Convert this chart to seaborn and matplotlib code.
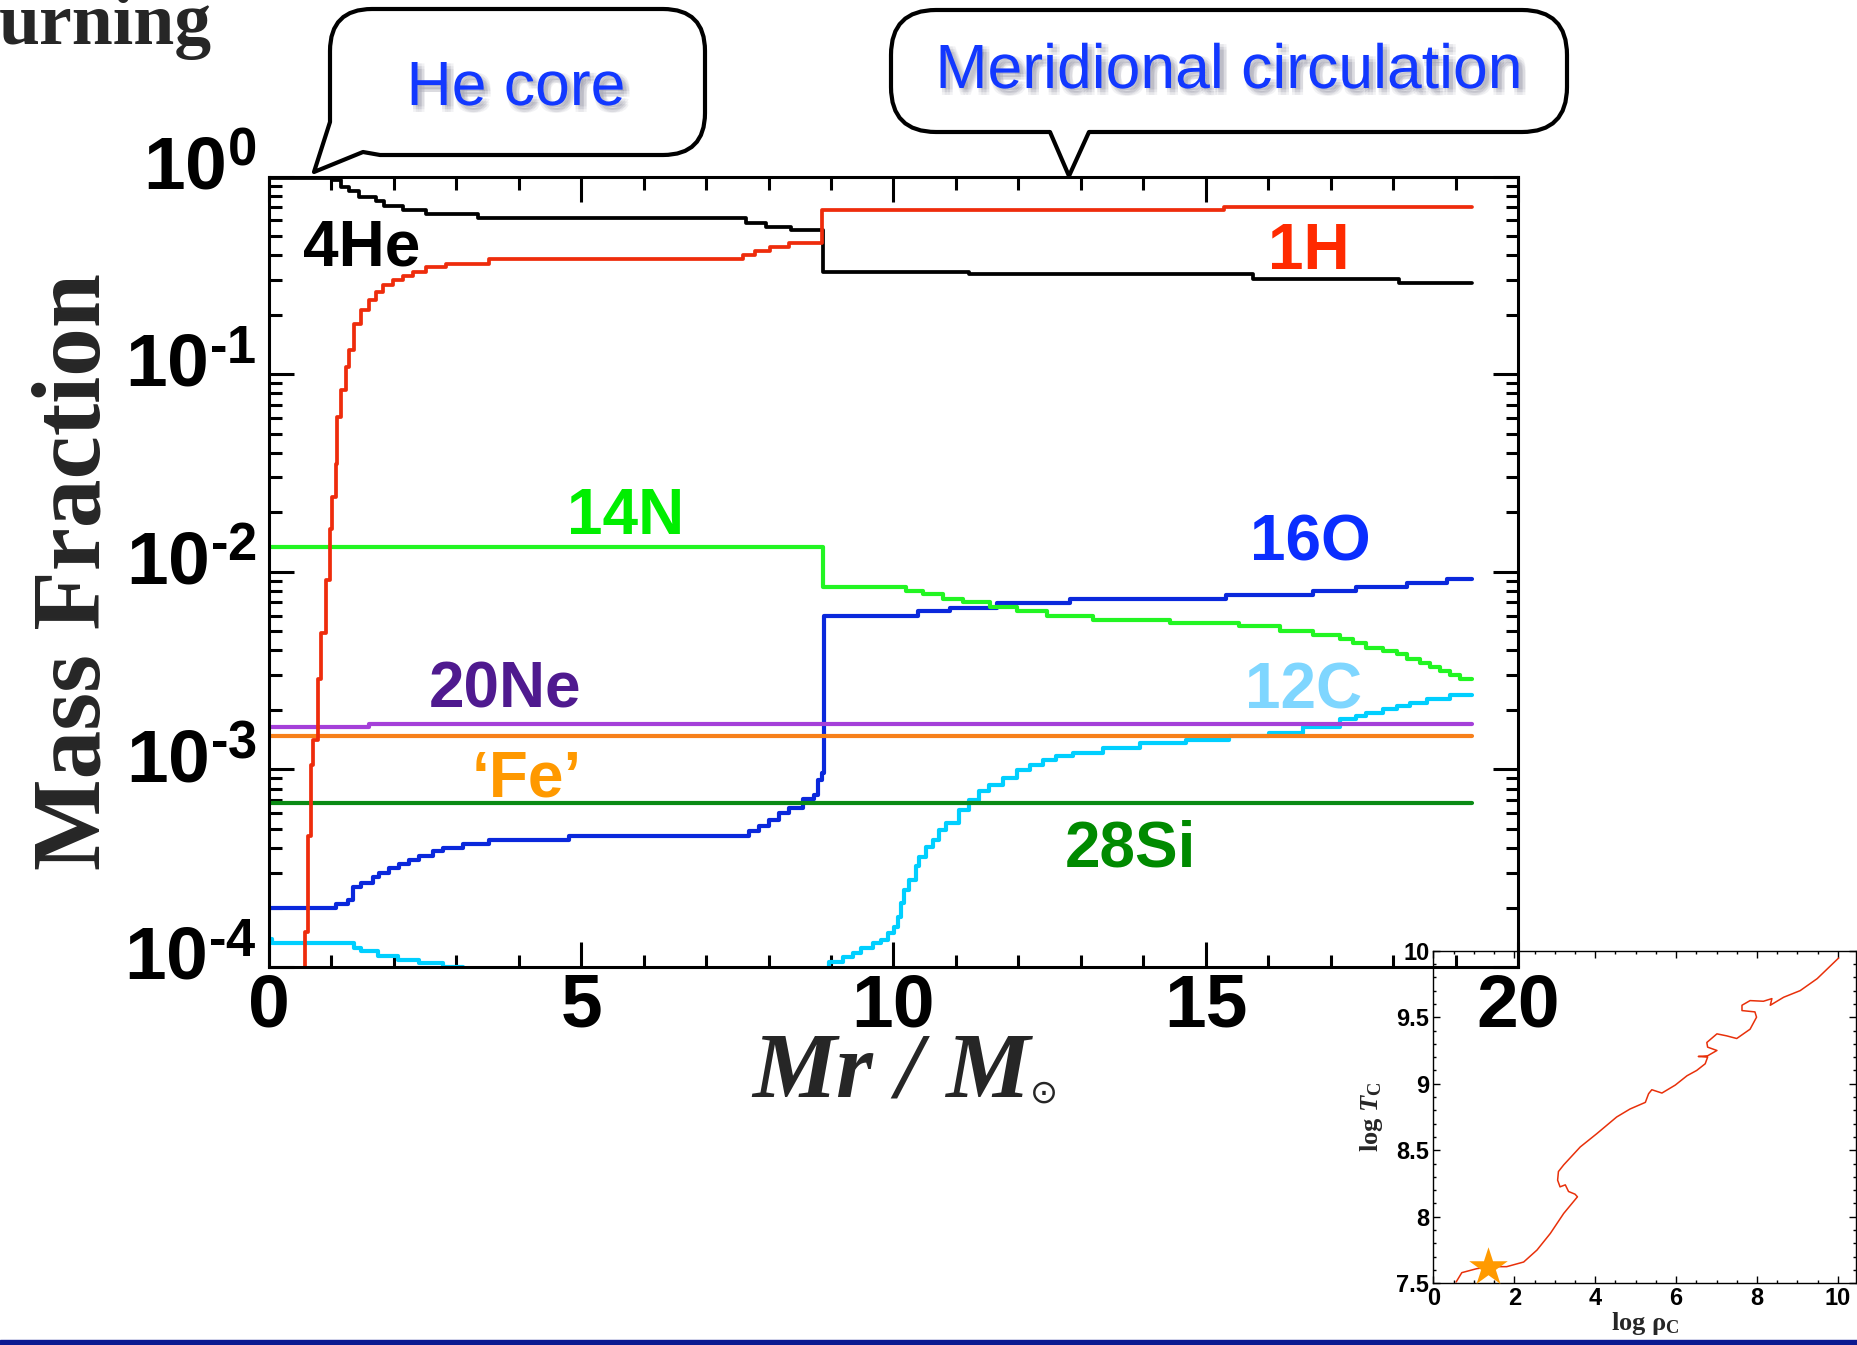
import numpy as np
import pandas as pd
import matplotlib
matplotlib.use("Agg")
import matplotlib.pyplot as plt
import matplotlib.ticker as mticker
import matplotlib.patheffects as pe
import matplotlib.transforms as mtrans
from matplotlib.path import Path
from matplotlib.patches import PathPatch, Rectangle
import seaborn as sns

# ---------------- abundance profiles (zone start Mr, mass fraction) ----------------
h1_mr = [0.55, 0.57, 0.62, 0.67, 0.71, 0.78, 0.84, 0.92, 0.98, 1.01, 1.07, 1.095,
         1.15, 1.23, 1.28, 1.36, 1.47, 1.60, 1.71, 1.82, 1.98, 2.14, 2.30, 2.51,
         2.83, 3.53, 7.59, 7.79, 8.03, 8.33, 8.85, 15.3, 19.26]
h1_x = [5e-5, 1.5e-4, 4.6e-4, 1.05e-3, 1.4e-3, 2.85e-3, 4.9e-3, 9.1e-3, 0.0164, 0.024,
        0.035, 0.061, 0.083, 0.109, 0.132, 0.18, 0.211, 0.237, 0.261, 0.282, 0.299,
        0.315, 0.330, 0.347, 0.361, 0.381, 0.40, 0.42, 0.44, 0.46, 0.678, 0.705, 0.705]

he4_mr = [0.0, 1.01, 1.15, 1.28, 1.44, 1.71, 1.84, 2.14, 2.51, 3.34, 7.64, 7.96,
          8.36, 8.87, 11.21, 15.76, 18.1, 19.26]
he4_x = [0.98, 0.96, 0.89, 0.84, 0.79, 0.755, 0.71, 0.678, 0.644, 0.615, 0.585,
         0.558, 0.537, 0.33, 0.32, 0.302, 0.29, 0.29]

n14_mr = [0.0, 8.87, 10.20, 10.47, 10.79, 11.11, 11.54, 11.97, 12.45, 13.19, 14.42,
          15.54, 16.19, 16.72, 17.15, 17.36, 17.57, 17.84, 18.06, 18.22, 18.43,
          18.59, 18.75, 18.91, 19.07, 19.26]
n14_x = [0.01327, 0.0084, 0.0080, 0.0077, 0.0073, 0.0070, 0.0066, 0.0063, 0.0060,
         0.0057, 0.0055, 0.0053, 0.0050, 0.00479, 0.00455, 0.00434, 0.00413,
         0.00397, 0.00382, 0.00363, 0.00347, 0.0033, 0.00315, 0.00299, 0.00285, 0.00285]

o16_mr = [0.0, 1.07, 1.26, 1.34, 1.47, 1.66, 1.76, 1.92, 2.08, 2.24, 2.40, 2.62, 2.78,
          3.10, 3.53, 4.81, 7.69, 7.85, 8.01, 8.17, 8.33, 8.55, 8.73, 8.79, 8.85,
          8.89, 10.39, 10.90, 11.65, 12.82, 15.33, 16.72, 17.41, 18.22, 18.86, 19.26]
o16_x = [2.0e-4, 2.08e-4, 2.19e-4, 2.54e-4, 2.65e-4, 2.87e-4, 2.99e-4, 3.16e-4,
         3.33e-4, 3.48e-4, 3.66e-4, 3.85e-4, 4.0e-4, 4.19e-4, 4.41e-4, 4.61e-4,
         4.85e-4, 5.14e-4, 5.56e-4, 6.01e-4, 6.37e-4, 7.08e-4, 7.45e-4, 8.87e-4,
         9.6e-4, 0.0060, 0.00633, 0.00658, 0.00692, 0.00726, 0.0076, 0.0080,
         0.00838, 0.00881, 0.00923, 0.00923]

c12_mr = [0.0, 0.05, 1.36, 1.47, 1.74, 2.06, 2.40, 2.78, 3.1, 5.0, 8.0, 8.89, 8.97,
          9.19, 9.35, 9.48, 9.67, 9.80, 9.91, 10.01, 10.07, 10.12, 10.17, 10.25,
          10.36, 10.41, 10.52, 10.63, 10.73, 10.84, 11.05, 11.21, 11.37, 11.53,
          11.75, 11.97, 12.18, 12.39, 12.61, 12.87, 13.35, 13.94, 14.69, 15.38,
          16.02, 16.56, 17.15, 17.41, 17.57, 17.84, 18.06, 18.27, 18.54, 18.91, 19.26]
c12_x = [1.38e-4, 1.32e-4, 1.25e-4, 1.20e-4, 1.14e-4, 1.08e-4, 1.045e-4, 1.0e-4,
         9.0e-5, 8.0e-5, 8.5e-5, 9.8e-5, 1.064e-4, 1.127e-4, 1.183e-4, 1.245e-4,
         1.318e-4, 1.371e-4, 1.483e-4, 1.6e-4, 1.8e-4, 2.1e-4, 2.45e-4, 2.76e-4,
         3.23e-4, 3.62e-4, 4.07e-4, 4.41e-4, 4.95e-4, 5.35e-4, 6.25e-4, 7.03e-4,
         7.74e-4, 8.37e-4, 9.06e-4, 9.98e-4, 1.057e-3, 1.12e-3, 1.164e-3, 1.21e-3,
         1.285e-3, 1.36e-3, 1.416e-3, 1.47e-3, 1.53e-3, 1.64e-3, 1.79e-3, 1.86e-3,
         1.93e-3, 2.01e-3, 2.09e-3, 2.17e-3, 2.28e-3, 2.39e-3, 2.39e-3]

ne20_mr = [0.0, 1.6, 19.26]
ne20_x = [1.63e-3, 1.70e-3, 1.70e-3]

fe_mr = [0.0, 19.26]
fe_x = [1.48e-3, 1.48e-3]

si28_mr = [0.0, 19.26]
si28_x = [6.73e-4, 6.73e-4]

# ---------------- central evolution track ----------------
log_rho_c = [0.56, 0.70, 1.07, 1.40, 1.81, 2.23, 2.56, 2.89, 3.22, 3.56, 3.50, 3.34,
             3.26, 3.13, 3.07, 3.09, 3.22, 3.63, 4.04, 4.53, 4.86, 5.24, 5.32, 5.40,
             5.65, 5.98, 6.27, 6.51, 6.72, 6.78, 6.55, 6.78, 7.01, 6.78, 6.76, 7.01,
             7.25, 7.50, 7.83, 7.99, 7.95, 7.63, 7.63, 7.83, 8.16, 8.37, 8.33, 8.66,
             9.07, 9.49, 10.02]
log_t_c = [7.51, 7.58, 7.61, 7.625, 7.625, 7.66, 7.75, 7.875, 8.025, 8.15, 8.17, 8.19,
           8.24, 8.225, 8.275, 8.34, 8.39, 8.525, 8.625, 8.75, 8.81, 8.86, 8.925,
           8.955, 8.93, 8.99, 9.06, 9.10, 9.15, 9.20, 9.205, 9.21, 9.25, 9.275, 9.31,
           9.375, 9.36, 9.34, 9.41, 9.50, 9.54, 9.55, 9.59, 9.625, 9.62, 9.64, 9.59,
           9.65, 9.70, 9.79, 9.945]
star_log_rho = [1.36]
star_log_t = [7.625]

# ---------------- ticks and labels ----------------
mass_ticks = [0, 5, 10, 15, 20]
mass_tick_labels = ["0", "5", "10", "15", "20"]
frac_ticks = [1e-4, 1e-3, 1e-2, 1e-1, 1.0]
frac_tick_labels = ["10$^{\u20104}$", "10$^{\u20103}$", "10$^{\u20102}$",
                    "10$^{\u20101}$", "10$^{0}$"]
rho_ticks = [0, 2, 4, 6, 8, 10]
rho_tick_labels = ["0", "2", "4", "6", "8", "10"]
t_ticks = [7.5, 8.0, 8.5, 9.0, 9.5, 10.0]
t_tick_labels = ["7.5", "8", "8.5", "9", "9.5", "10"]

species_names = ["4He", "1H", "14N", "16O", "20Ne", "12C", "\u2018Fe\u2019", "28Si"]
species_text_colors = ["#000000", "#FF2A00", "#00EE00", "#0A2EFF", "#4F1A8F",
                       "#7FD6FF", "#FF9900", "#008A00"]
species_text_pos = [(1.48, 0.355), (16.65, 0.340), (5.71, 0.01545), (16.68, 0.0114),
                    (3.78, 2.06e-3), (16.57, 2.03e-3), (4.12, 7.3e-4), (13.80, 3.24e-4)]

# ---------------- style ----------------
sns.set_theme(style="ticks")
plt.rcParams.update({
    "font.family": ["Liberation Sans", "DejaVu Sans"],
    "mathtext.fontset": "custom",
    "mathtext.rm": "Liberation Sans:bold",
    "mathtext.bf": "Liberation Sans:bold",
    "mathtext.it": "Liberation Serif:italic:bold",
    "mathtext.sf": "Liberation Serif:bold",
    "mathtext.fallback": "stix",
    "axes.edgecolor": "black",
    "xtick.color": "black",
    "ytick.color": "black",
})

W, H = 1858, 1345
fig = plt.figure(figsize=(W / 100, H / 100), dpi=100)
fig.patch.set_facecolor("white")

# main profile panel (drawn above the inset, transparent background)
ax = fig.add_axes([269 / W, 1 - 967 / H, (1518 - 269) / W, (967 - 176.5) / H], zorder=3)
ax.set_facecolor("none")
ax.set_yscale("log")


def profile(mr, x, color, lw=3.0):
    df = pd.DataFrame({"mr": mr, "x": x})
    sns.lineplot(data=df, x="mr", y="x", ax=ax, color=color, linewidth=lw,
                 estimator=None, sort=False, drawstyle="steps-post", legend=False)


profile(c12_mr, c12_x, "#00CFFF")
profile(o16_mr, o16_x, "#0A28DC")
profile(n14_mr, n14_x, "#22F522")
profile(ne20_mr, ne20_x, "#A540D9")
profile(fe_mr, fe_x, "#F7801A")
profile(si28_mr, si28_x, "#0A8A14")
profile(he4_mr, he4_x, "#000000", lw=2.7)
profile(h1_mr, h1_x, "#EE2C0C", lw=2.7)

ax.set_xlim(0, 20)
ax.set_ylim(1e-4, 1.0)

for name, col, (px, py) in zip(species_names, species_text_colors, species_text_pos):
    ax.text(px, py, name, color=col, fontsize=46, fontweight="bold",
            ha="center", va="baseline", family="Liberation Sans")

ax.set_xticks(mass_ticks)
ax.set_xticklabels(mass_tick_labels, fontsize=54, fontweight="bold")
ax.xaxis.set_minor_locator(mticker.MultipleLocator(1))
ax.set_yticks(frac_ticks)
ax.set_yticklabels(frac_tick_labels, fontsize=54, fontweight="bold")
ax.yaxis.set_minor_locator(mticker.LogLocator(base=10, subs=np.arange(2, 10), numticks=20))
ax.yaxis.set_minor_formatter(mticker.NullFormatter())
ax.tick_params(which="both", direction="in", top=True, right=True, width=2.2)
ax.tick_params(which="major", length=18)
ax.tick_params(which="minor", length=9)
ax.tick_params(axis="x", pad=4)
ax.tick_params(axis="y", pad=9)
# lift the decade labels slightly so the "10" sits on the tick
lift = mtrans.ScaledTranslation(0, 10 / 72, fig.dpi_scale_trans)
for lbl in ax.get_yticklabels():
    lbl.set_transform(lbl.get_transform() + lift)
for sp in ax.spines.values():
    sp.set_linewidth(2.2)
    sp.set_color("black")

ax.set_ylabel("Mass Fraction", fontsize=70, fontweight="bold", family="Liberation Serif")
ax.yaxis.set_label_coords(-0.1185, 0.5)
ax.set_xlabel("Mr / M", fontsize=68, fontweight="bold", fontstyle="italic",
              family="Liberation Serif")
ax.xaxis.set_label_coords(0.498, -0.081)

# inset: central density-temperature track
ins = fig.add_axes([1433.5 / W, 1 - 1283.3 / H, (1856 - 1433.5) / W, (1283.3 - 950.7) / H],
                   zorder=1)
ins.set_facecolor("white")
sns.lineplot(x=log_rho_c, y=log_t_c, ax=ins, color="#E8300A", linewidth=1.1,
             estimator=None, sort=False, legend=False)
sns.scatterplot(x=star_log_rho, y=star_log_t, ax=ins, marker="*", s=850,
                color="#FF9A00", linewidth=0, legend=False, zorder=5)
ins.set_xlim(0, 10.45)
ins.set_ylim(7.5, 10.0)
ins.set_xticks(rho_ticks)
ins.set_xticklabels(rho_tick_labels, fontsize=17, fontweight="bold")
ins.set_yticks(t_ticks)
ins.set_yticklabels(t_tick_labels, fontsize=17, fontweight="bold")
ins.xaxis.set_minor_locator(mticker.MultipleLocator(0.5))
ins.yaxis.set_minor_locator(mticker.MultipleLocator(0.1))
ins.tick_params(which="both", direction="in", top=True, right=True, width=1.0)
ins.tick_params(which="major", length=5, pad=3)
ins.tick_params(which="minor", length=2.5)
for sp in ins.spines.values():
    sp.set_linewidth(1.0)
    sp.set_color("black")
ins.set_xlabel("log \u03c1$_{\\mathsf{C}}$", fontsize=19, fontweight="bold",
               family="Liberation Serif", labelpad=0)
ins.set_ylabel("log $\\mathit{T}_{\\mathsf{C}}$", fontsize=19, fontweight="bold",
               family="Liberation Serif", labelpad=8)

# overlay in pixel units for callouts and headline
ov = fig.add_axes([0, 0, 1, 1], zorder=5)
ov.set_xlim(0, W)
ov.set_ylim(H, 0)
ov.axis("off")

# solar-mass symbol after the axis label
ov.text(1044, 1093, "\u2299", fontsize=24, family="DejaVu Sans", ha="center",
        va="center")


def bubble(x0, y0, x1, y1, r, pointer, corner=False):
    verts = [(x0 + r, y0), (x1 - r, y0), (x1, y0), (x1, y0 + r), (x1, y1 - r),
             (x1, y1), (x1 - r, y1)]
    codes = [Path.MOVETO, Path.LINETO, Path.CURVE3, Path.CURVE3, Path.LINETO,
             Path.CURVE3, Path.CURVE3]
    for p in pointer:
        verts.append(p)
        codes.append(Path.LINETO)
    if not corner:
        verts += [(x0 + r, y1), (x0, y1), (x0, y1 - r)]
        codes += [Path.LINETO, Path.CURVE3, Path.CURVE3]
    verts += [(x0, y0 + r), (x0, y0), (x0 + r, y0), (x0 + r, y0)]
    codes += [Path.LINETO, Path.CURVE3, Path.CURVE3, Path.CLOSEPOLY]
    ov.add_patch(PathPatch(Path(verts, codes), facecolor="white", edgecolor="black",
                           linewidth=3.0, joinstyle="round"))


bubble(330, 9, 705, 155, 42,
       [(380, 155), (363, 152), (314, 172), (330, 122)], corner=True)
bubble(891, 10, 1567, 132, 45,
       [(1089, 132), (1069, 176), (1050, 132)])

shadow = [pe.SimplePatchShadow(offset=(dx, -dy), shadow_rgbFace="#303050", alpha=0.06)
          for dx in (1, 3, 5) for dy in (1, 3, 5)] + [pe.Normal()]
ov.text(516, 105, "He core", color="#1238FF", fontsize=45, ha="center", va="baseline",
        family="Liberation Sans", path_effects=shadow)
ov.text(1229, 88, "Meridional circulation", color="#1238FF", fontsize=45, ha="center",
        va="baseline", family="Liberation Sans", path_effects=shadow)

ov.text(212, 44, "urning", fontsize=53, fontweight="bold", family="Liberation Serif",
        ha="right", va="baseline")
ov.add_patch(Rectangle((0, 1340), W, 6, color="#0B1990"))

fig.savefig("out.png", dpi=100)
